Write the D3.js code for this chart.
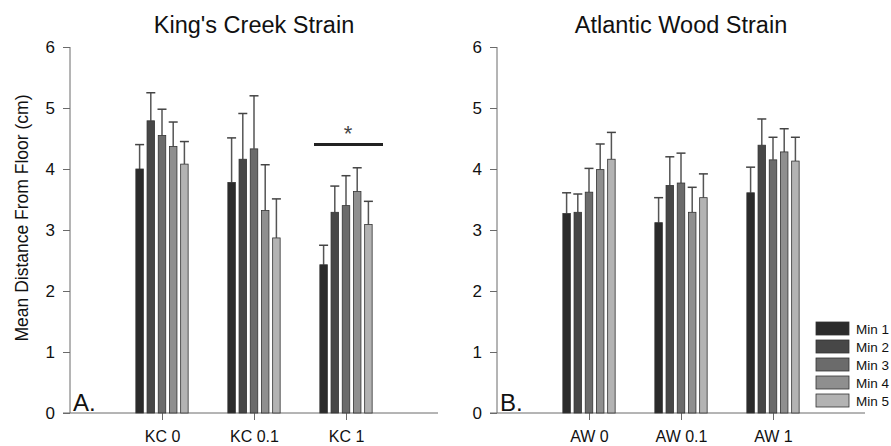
<!DOCTYPE html>
<html>
<head>
<meta charset="utf-8">
<script src="https://cdn.jsdelivr.net/npm/d3@7"></script>
<style>
  body { margin: 0; background: #fff; }
  svg { display: block; font-family: "Liberation Sans", Arial, sans-serif; }
</style>
</head>
<body>
<svg id="chart" width="891" height="446"></svg>
<script>
// === Data ===
const series = ['Min 1', 'Min 2', 'Min 3', 'Min 4', 'Min 5'];
const seriesColors = ['#2b2b2b', '#474747', '#6b6b6b', '#8f8f8f', '#b3b3b3'];

const kcGroups = ['KC 0', 'KC 0.1', 'KC 1'];
const kcMeans = [
    [4.00, 4.79, 4.55, 4.37, 4.08],
    [3.78, 4.16, 4.33, 3.32, 2.87],
    [2.43, 3.29, 3.40, 3.63, 3.09]
];
const kcUpper = [
    [4.40, 5.25, 4.98, 4.77, 4.45],
    [4.51, 4.91, 5.20, 4.07, 3.51],
    [2.75, 3.72, 3.89, 4.02, 3.47]
];

const awGroups = ['AW 0', 'AW 0.1', 'AW 1'];
const awMeans = [
    [3.27, 3.29, 3.62, 3.99, 4.16],
    [3.12, 3.73, 3.77, 3.29, 3.53],
    [3.61, 4.39, 4.15, 4.28, 4.13]
];
const awUpper = [
    [3.61, 3.59, 4.01, 4.41, 4.60],
    [3.53, 4.20, 4.26, 3.70, 3.92],
    [4.03, 4.82, 4.52, 4.66, 4.52]
];

const yTicks = [0, 1, 2, 3, 4, 5, 6];

// === Layout ===
const svg = d3.select('#chart');
const y = d3.scaleLinear().domain([0, 6]).range([413, 47]);
const axisColor = '#6a6a6a';

function drawPanel(opts) {
    const g = svg.append('g');
    const x = d3.scalePoint()
        .domain(opts.groups)
        .range([opts.x0, opts.x0 + 368])
        .padding(1);
    const inner = d3.scaleBand()
        .domain(series)
        .range([-28, 28])
        .paddingInner(0.33)
        .paddingOuter(0.165);

    // y axis
    const yAxis = g.append('g')
        .attr('transform', `translate(${opts.x0},0)`)
        .call(d3.axisLeft(y).tickValues(yTicks).tickSize(7).tickPadding(8).tickFormat(d3.format('d')));
    yAxis.select('.domain').attr('stroke', axisColor).attr('d', `M0,${y(0)}V${y(6)}`);
    yAxis.selectAll('.tick line').attr('stroke', axisColor);
    yAxis.selectAll('.tick text').attr('fill', '#111').style('font-size', '17px');

    // x axis
    const xAxis = g.append('g')
        .attr('transform', `translate(0,${y(0)})`)
        .call(d3.axisBottom(x).tickSize(7).tickPadding(11));
    xAxis.select('.domain').attr('stroke', axisColor).attr('d', `M${opts.x0 - 7},0H${opts.x0 + 368}`);
    xAxis.selectAll('.tick line').attr('stroke', axisColor);
    xAxis.selectAll('.tick text').attr('fill', '#111').style('font-size', '16px');

    // bars
    opts.groups.forEach((grp, gi) => {
        const gg = g.append('g').attr('transform', `translate(${x(grp)},0)`);
        const rows = series.map((s, si) => ({ s, si, v: opts.means[gi][si], up: opts.upper[gi][si] }));

        gg.selectAll('line.err')
            .data(rows)
            .enter()
            .append('line')
            .attr('class', 'err')
            .attr('x1', d => inner(d.s) + inner.bandwidth() / 2)
            .attr('x2', d => inner(d.s) + inner.bandwidth() / 2)
            .attr('y1', d => y(d.v))
            .attr('y2', d => y(d.up))
            .attr('stroke', '#555')
            .attr('stroke-width', 1.5);

        gg.selectAll('line.cap')
            .data(rows)
            .enter()
            .append('line')
            .attr('class', 'cap')
            .attr('x1', d => inner(d.s) + inner.bandwidth() / 2 - 4.5)
            .attr('x2', d => inner(d.s) + inner.bandwidth() / 2 + 4.5)
            .attr('y1', d => y(d.up))
            .attr('y2', d => y(d.up))
            .attr('stroke', '#444')
            .attr('stroke-width', 1.5);

        gg.selectAll('rect')
            .data(rows)
            .enter()
            .append('rect')
            .attr('x', d => inner(d.s))
            .attr('y', d => y(d.v))
            .attr('width', inner.bandwidth())
            .attr('height', d => y(0) - y(d.v))
            .attr('fill', d => seriesColors[d.si])
            .attr('stroke', '#333')
            .attr('stroke-width', 0.8);
    });

    // title and panel letter
    g.append('text')
        .attr('x', opts.x0 + 184)
        .attr('y', 33)
        .attr('text-anchor', 'middle')
        .style('font-size', '23.5px')
        .attr('fill', '#111')
        .text(opts.title);

    g.append('text')
        .attr('x', opts.x0 + 3)
        .attr('y', 411)
        .style('font-size', '24px')
        .attr('fill', '#111')
        .text(opts.letter);

    return x;
}

const xA = drawPanel({ x0: 70, groups: kcGroups, means: kcMeans, upper: kcUpper, title: "King's Creek Strain", letter: 'A.' });
drawPanel({ x0: 497, groups: awGroups, means: awMeans, upper: awUpper, title: 'Atlantic Wood Strain', letter: 'B.' });

// significance bar over KC 1
svg.append('line')
    .attr('x1', xA('KC 1') - 32)
    .attr('x2', xA('KC 1') + 37)
    .attr('y1', y(4.4))
    .attr('y2', y(4.4))
    .attr('stroke', '#222')
    .attr('stroke-width', 3);
svg.append('text')
    .attr('x', xA('KC 1') + 2)
    .attr('y', y(4.4) - 4)
    .attr('text-anchor', 'middle')
    .style('font-size', '22px')
    .attr('fill', '#444')
    .text('*');

// y axis title
svg.append('text')
    .attr('transform', 'translate(28,218) rotate(-90)')
    .attr('text-anchor', 'middle')
    .style('font-size', '17.5px')
    .attr('fill', '#111')
    .text('Mean Distance From Floor (cm)');

// legend
const legend = svg.append('g').attr('transform', 'translate(816,322)');
legend.selectAll('rect')
    .data(series)
    .enter()
    .append('rect')
    .attr('x', 0)
    .attr('y', (d, i) => i * 18)
    .attr('width', 33)
    .attr('height', 13)
    .attr('fill', (d, i) => seriesColors[i])
    .attr('stroke', '#333')
    .attr('stroke-width', 0.8);
legend.selectAll('text')
    .data(series)
    .enter()
    .append('text')
    .attr('x', 40)
    .attr('y', (d, i) => i * 18 + 11.5)
    .style('font-size', '13.5px')
    .attr('fill', '#111')
    .text(d => d);
</script>
</body>
</html>
